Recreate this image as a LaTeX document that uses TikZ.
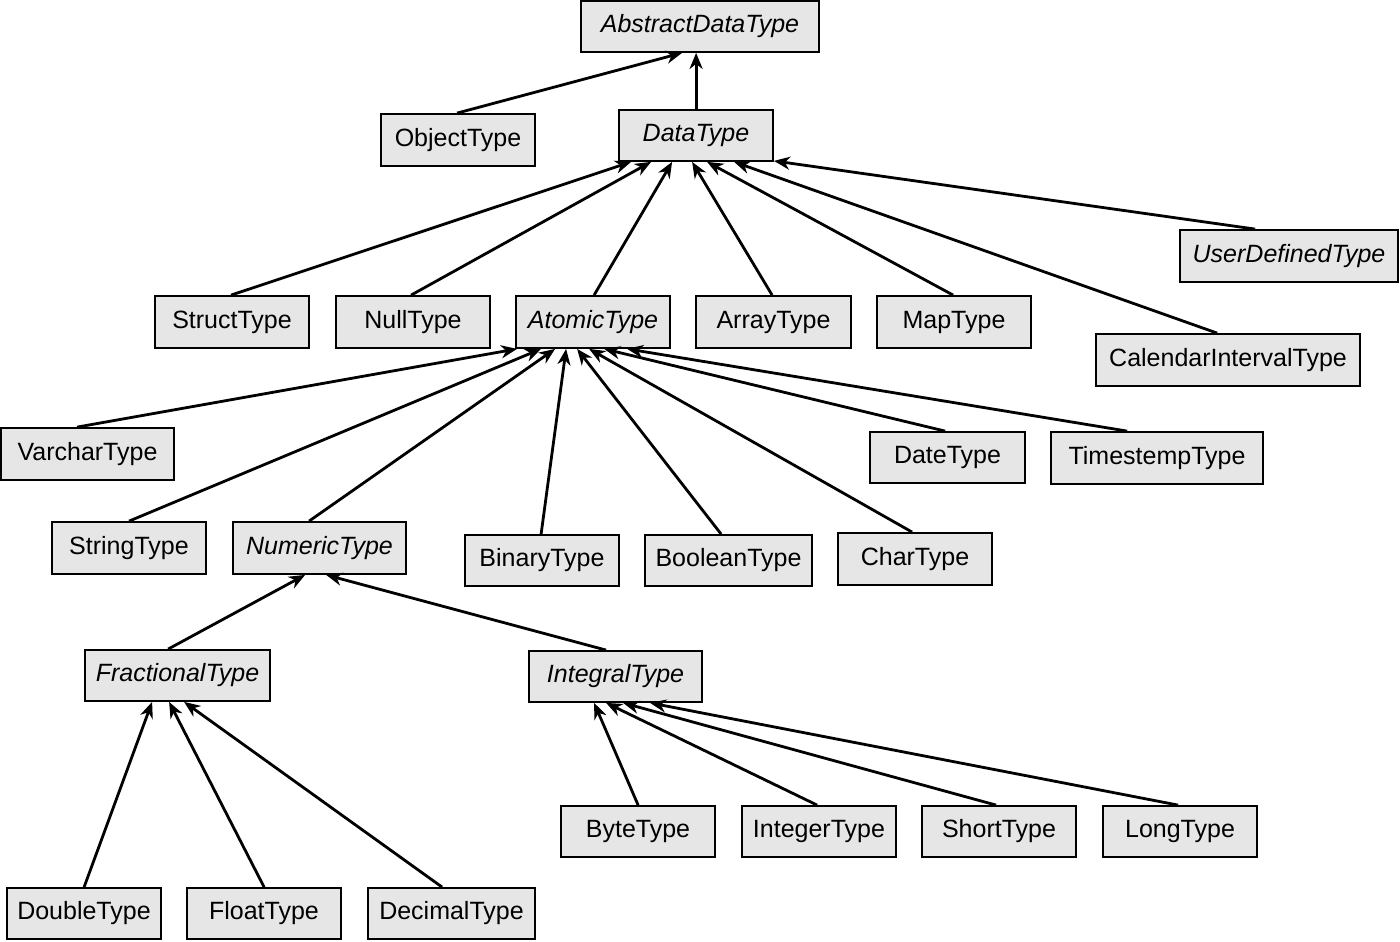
\documentclass[tikz,border=0pt]{standalone}
\usepackage{fontspec}
\setmainfont{Liberation Sans}
\usetikzlibrary{arrows.meta,calc,shadows}
\definecolor{boxfill}{HTML}{E6E6E6}
\tikzset{
  typebox/.style={draw=black, line width=0.9pt, fill=boxfill, inner sep=0pt,
    font=\fontsize{12.5}{15}\selectfont,
    drop shadow={shadow xshift=0.6pt, shadow yshift=-0.6pt, fill=black, opacity=1}},
  abstractbox/.style={typebox, font=\fontsize{12.5}{15}\selectfont\itshape},
  inherit/.style={line width=1.4pt, -{Stealth[length=8pt,width=6.5pt,inset=2.5pt]}},
}
\newcommand{\tbox}[7]{\node[#1, minimum width={(#5-#3)*0.5pt}, minimum height={(#6-#4)*0.5pt}] (#2) at ({(#3+#5)/2},{(#4+#6)/2}) {#7};}
\begin{document}
\begin{tikzpicture}[x=0.5pt,y=-0.5pt]
\useasboundingbox (0,0) rectangle (1400,941);
% boxes
\tbox{abstractbox}{adt}{581}{1}{819}{52}{AbstractDataType}
\tbox{typebox}{obj}{381}{114}{535}{166}{ObjectType}
\tbox{abstractbox}{dt}{619}{110}{773}{161}{DataType}
\tbox{abstractbox}{udt}{1180}{230}{1398}{282}{UserDefinedType}
\tbox{typebox}{struct}{155}{296}{309}{348}{StructType}
\tbox{typebox}{null}{336}{296}{490}{348}{NullType}
\tbox{abstractbox}{atomic}{516}{296}{670}{348}{AtomicType}
\tbox{typebox}{array}{696}{296}{851}{348}{ArrayType}
\tbox{typebox}{map}{877}{296}{1031}{348}{MapType}
\tbox{typebox}{cal}{1096}{334}{1360}{386}{CalendarIntervalType}
\tbox{typebox}{varchar}{1}{428}{174}{480}{VarcharType}
\tbox{typebox}{date}{870}{432}{1025}{483}{DateType}
\tbox{typebox}{ts}{1051}{432}{1263}{484}{TimestempType}
\tbox{typebox}{string}{52}{522}{206}{574}{StringType}
\tbox{abstractbox}{numeric}{233}{522}{406}{574}{NumericType}
\tbox{typebox}{binary}{465}{535}{619}{586}{BinaryType}
\tbox{typebox}{boolean}{645}{535}{812}{586}{BooleanType}
\tbox{typebox}{char}{838}{533}{992}{585}{CharType}
\tbox{abstractbox}{frac}{85}{650}{270}{701}{FractionalType}
\tbox{abstractbox}{integral}{529}{651}{702}{702}{IntegralType}
\tbox{typebox}{byte}{561}{806}{715}{857}{ByteType}
\tbox{typebox}{integer}{742}{806}{896}{857}{IntegerType}
\tbox{typebox}{short}{922}{806}{1076}{857}{ShortType}
\tbox{typebox}{long}{1103}{806}{1257}{857}{LongType}
\tbox{typebox}{double}{7}{888}{161}{939}{DoubleType}
\tbox{typebox}{float}{187}{888}{341}{939}{FloatType}
\tbox{typebox}{decimal}{368}{888}{535}{939}{DecimalType}
% connectors
\draw[inherit] ($(obj.north west)+(77,0)$) -- ($(adt.south west)+(102,0)$);
\draw[inherit] ($(dt.north west)+(78,0)$) -- ($(adt.south west)+(116,0)$);
\draw[inherit] ($(struct.north west)+(77,0)$) -- ($(dt.south west)+(13,0)$);
\draw[inherit] ($(null.north west)+(76,0)$) -- ($(dt.south west)+(33,0)$);
\draw[inherit] ($(atomic.north west)+(79,0)$) -- ($(dt.south west)+(54,0)$);
\draw[inherit] ($(array.north west)+(77,0)$) -- ($(dt.south west)+(74,0)$);
\draw[inherit] ($(map.north west)+(77,0)$) -- ($(dt.south west)+(89,0)$);
\draw[inherit] ($(cal.north west)+(122,0)$) -- ($(dt.south west)+(116,0)$);
\draw[inherit] ($(udt.north west)+(76,0)$) -- ($(dt.south east)+(0,-1)$);
\draw[inherit] ($(varchar.north west)+(77,0)$) -- ($(atomic.south west)+(2,0)$);
\draw[inherit] ($(string.north west)+(78,0)$) -- ($(atomic.south west)+(26,0)$);
\draw[inherit] ($(numeric.north west)+(77,0)$) -- ($(atomic.south west)+(40,0)$);
\draw[inherit] ($(binary.north west)+(77,0)$) -- ($(atomic.south west)+(51,0)$);
\draw[inherit] ($(boolean.north west)+(77,0)$) -- ($(atomic.south west)+(62,0)$);
\draw[inherit] ($(char.north west)+(75,0)$) -- ($(atomic.south west)+(74,0)$);
\draw[inherit] ($(date.north west)+(76,0)$) -- ($(atomic.south west)+(89,0)$);
\draw[inherit] ($(ts.north west)+(77,0)$) -- ($(atomic.south west)+(112,0)$);
\draw[inherit] ($(frac.north west)+(84,0)$) -- ($(numeric.south west)+(73,0)$);
\draw[inherit] ($(integral.north west)+(78,0)$) -- ($(numeric.south west)+(94,0)$);
\draw[inherit] ($(double.north west)+(78,0)$) -- ($(frac.south west)+(68,0)$);
\draw[inherit] ($(float.north west)+(78,0)$) -- ($(frac.south west)+(85,0)$);
\draw[inherit] ($(decimal.north west)+(75,0)$) -- ($(frac.south west)+(100,0)$);
\draw[inherit] ($(byte.north west)+(78,0)$) -- ($(integral.south west)+(66,0)$);
\draw[inherit] ($(integer.north west)+(76,0)$) -- ($(integral.south west)+(78,0)$);
\draw[inherit] ($(short.north west)+(75,0)$) -- ($(integral.south west)+(95,0)$);
\draw[inherit] ($(long.north west)+(76,0)$) -- ($(integral.south west)+(122,0)$);
\end{tikzpicture}
\end{document}
